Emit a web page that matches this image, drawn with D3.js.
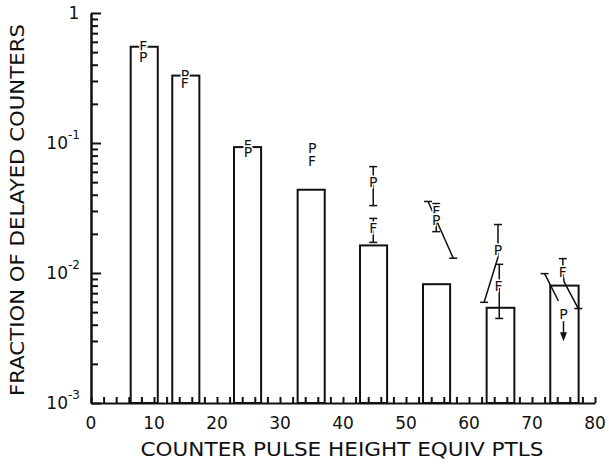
<!DOCTYPE html>
<html>
<head>
<meta charset="utf-8">
<script src="https://cdn.jsdelivr.net/npm/d3@7.9.0/dist/d3.min.js"></script>
<style>
  body { margin: 0; background: #fff; }
  text { font-family: "DejaVu Sans", sans-serif; fill: #111; }
</style>
</head>
<body>
<svg id="chart" width="609" height="465"></svg>
<script>
// bins of counter pulse height (lower / upper edge) and fraction of delayed counters
const binLo    = [6.3, 12.9, 22.7, 32.8, 42.7, 52.7, 62.8, 72.9];
const binHi    = [10.6, 17.2, 27.0, 37.1, 47.0, 57.0, 67.2, 77.4];
const fraction = [0.55, 0.33, 0.093, 0.0437, 0.0163, 0.0082, 0.0054, 0.0080];

// P and F points: [symbol, x, value]
const points = [
  ['F', 8.3, 0.56],  ['P', 8.3, 0.46],
  ['P', 14.9, 0.335], ['F', 14.9, 0.29],
  ['F', 24.9, 0.097], ['P', 24.9, 0.086],
  ['P', 35.1, 0.092], ['F', 35.1, 0.0723],
  ['P', 44.8, 0.0505], ['F', 44.8, 0.0224],
  ['F', 54.8, 0.0302], ['P', 54.8, 0.0258],
  ['P', 64.6, 0.0150], ['F', 64.7, 0.00794],
  ['F', 74.9, 0.0101], ['P', 75.0, 0.00488]
];

// error bar lines as [x, value] polylines, and the capped ends
const errLines = [
  [[44.8, 0.0658], [44.8, 0.0330]],
  [[44.8, 0.0263], [44.8, 0.0172]],
  [[54.8, 0.0342], [54.8, 0.0208]],
  [[53.5, 0.0355], [57.5, 0.0130]],
  [[64.6, 0.0236], [64.6, 0.0132], [62.4, 0.00595]],
  [[64.8, 0.01166], [64.8, 0.00447]],
  [[74.9, 0.0129], [74.9, 0.0100], [75.1, 0.00853], [77.35, 0.00533]],
  [[72.0, 0.00989], [74.2, 0.00609]]
];
const errCaps = [
  [44.8, 0.0658], [44.8, 0.0330], [44.8, 0.0263], [44.8, 0.0172],
  [54.8, 0.0342], [54.8, 0.0208], [53.5, 0.0355], [57.5, 0.0130],
  [64.6, 0.0236], [62.4, 0.00595], [64.8, 0.01166], [64.8, 0.00447],
  [74.9, 0.0129], [77.35, 0.00533], [72.0, 0.00989]
];
// upper limit arrow
const limitArrow = [[75.0, 0.00426], [75.0, 0.00299]];

const xTicks = d3.range(0, 81, 10);
const yDecades = [1e-3, 1e-2, 1e-1, 1];
const yLabels = ['10', '10', '10', '1'];
const yExps   = ['-3', '-2', '-1', ''];

const svg = d3.select('#chart');
const x = d3.scaleLinear().domain([0, 80]).range([91, 595]);
const y = d3.scaleLog().domain([1e-3, 1]).range([403, 13]);
const ink = '#111';

// axes
svg.append('g').attr('transform', `translate(0,${y(1e-3)})`)
  .call(d3.axisBottom(x).tickValues(d3.range(0, 81, 2)).tickSizeInner(-6).tickSizeOuter(0).tickFormat(''));
const yMinor = y.ticks().filter(v => !yDecades.some(d => Math.abs(d - v) < d * 1e-6));
svg.append('g').attr('transform', `translate(${x(0)},0)`)
  .call(d3.axisLeft(y).tickValues(yMinor).tickSizeInner(-7).tickSizeOuter(0).tickFormat(''));
svg.append('g').attr('transform', `translate(${x(0)},0)`)
  .call(d3.axisLeft(y).tickValues(yDecades).tickSizeInner(-10).tickSizeOuter(0).tickFormat(''));
svg.selectAll('.domain, .tick line').attr('stroke', ink).attr('stroke-width', 2);

svg.append('g').selectAll('text').data(xTicks).join('text')
  .attr('x', d => x(d)).attr('y', y(1e-3) + 26)
  .attr('text-anchor', 'middle').attr('font-size', 17)
  .text(d => d);

svg.append('g').selectAll('text').data(yDecades).join('text')
  .attr('x', (d, i) => yExps[i] ? 68 : 74)
  .attr('y', d => y(d) + 6)
  .attr('text-anchor', (d, i) => yExps[i] ? 'end' : 'middle')
  .attr('font-size', 17)
  .text((d, i) => yLabels[i]);
svg.append('g').selectAll('text').data(yDecades.filter((d, i) => yExps[i])).join('text')
  .attr('x', 68).attr('y', d => y(d) - 4)
  .attr('font-size', 12)
  .text((d, i) => yExps[i]);

svg.append('text')
  .attr('x', 342).attr('y', 456).attr('text-anchor', 'middle')
  .attr('font-size', 19).attr('textLength', 403).attr('lengthAdjust', 'spacingAndGlyphs')
  .text('COUNTER PULSE HEIGHT EQUIV PTLS');
svg.append('text')
  .attr('transform', 'translate(24,210) rotate(-90)').attr('text-anchor', 'middle')
  .attr('font-size', 19).attr('textLength', 372).attr('lengthAdjust', 'spacingAndGlyphs')
  .text('FRACTION OF DELAYED COUNTERS');

// bars
svg.append('g').selectAll('rect').data(fraction).join('rect')
  .attr('x', (d, i) => x(binLo[i]))
  .attr('width', (d, i) => x(binHi[i]) - x(binLo[i]))
  .attr('y', d => y(d))
  .attr('height', d => y(1e-3) - y(d))
  .attr('fill', 'none').attr('stroke', ink).attr('stroke-width', 2);

// error bars
const line = d3.line().x(d => x(d[0])).y(d => y(d[1]));
svg.append('g').selectAll('path').data(errLines).join('path')
  .attr('d', line).attr('fill', 'none').attr('stroke', ink).attr('stroke-width', 1.5);
svg.append('g').selectAll('line').data(errCaps).join('line')
  .attr('x1', d => x(d[0]) - 4).attr('x2', d => x(d[0]) + 4)
  .attr('y1', d => y(d[1])).attr('y2', d => y(d[1]))
  .attr('stroke', ink).attr('stroke-width', 1.5);

const [a0, a1] = limitArrow;
svg.append('path').attr('d', line([a0, [a1[0], a1[1] * 1.15]]))
  .attr('stroke', ink).attr('stroke-width', 1.5).attr('fill', 'none');
svg.append('path')
  .attr('d', `M${x(a1[0]) - 3.5},${y(a1[1]) - 9}L${x(a1[0]) + 3.5},${y(a1[1]) - 9}L${x(a1[0])},${y(a1[1])}Z`)
  .attr('fill', ink);

// P / F symbols with a white halo that breaks the lines behind them
svg.append('g').attr('font-size', 14).attr('text-anchor', 'middle')
  .selectAll('text').data(points).join('text')
  .attr('transform', d => `translate(${x(d[1])},${y(d[2])}) rotate(0.01)`)
  .attr('dy', '0.36em')
  .attr('stroke', '#fff').attr('stroke-width', 3).style('paint-order', 'stroke')
  .text(d => d[0]);
</script>
</body>
</html>
